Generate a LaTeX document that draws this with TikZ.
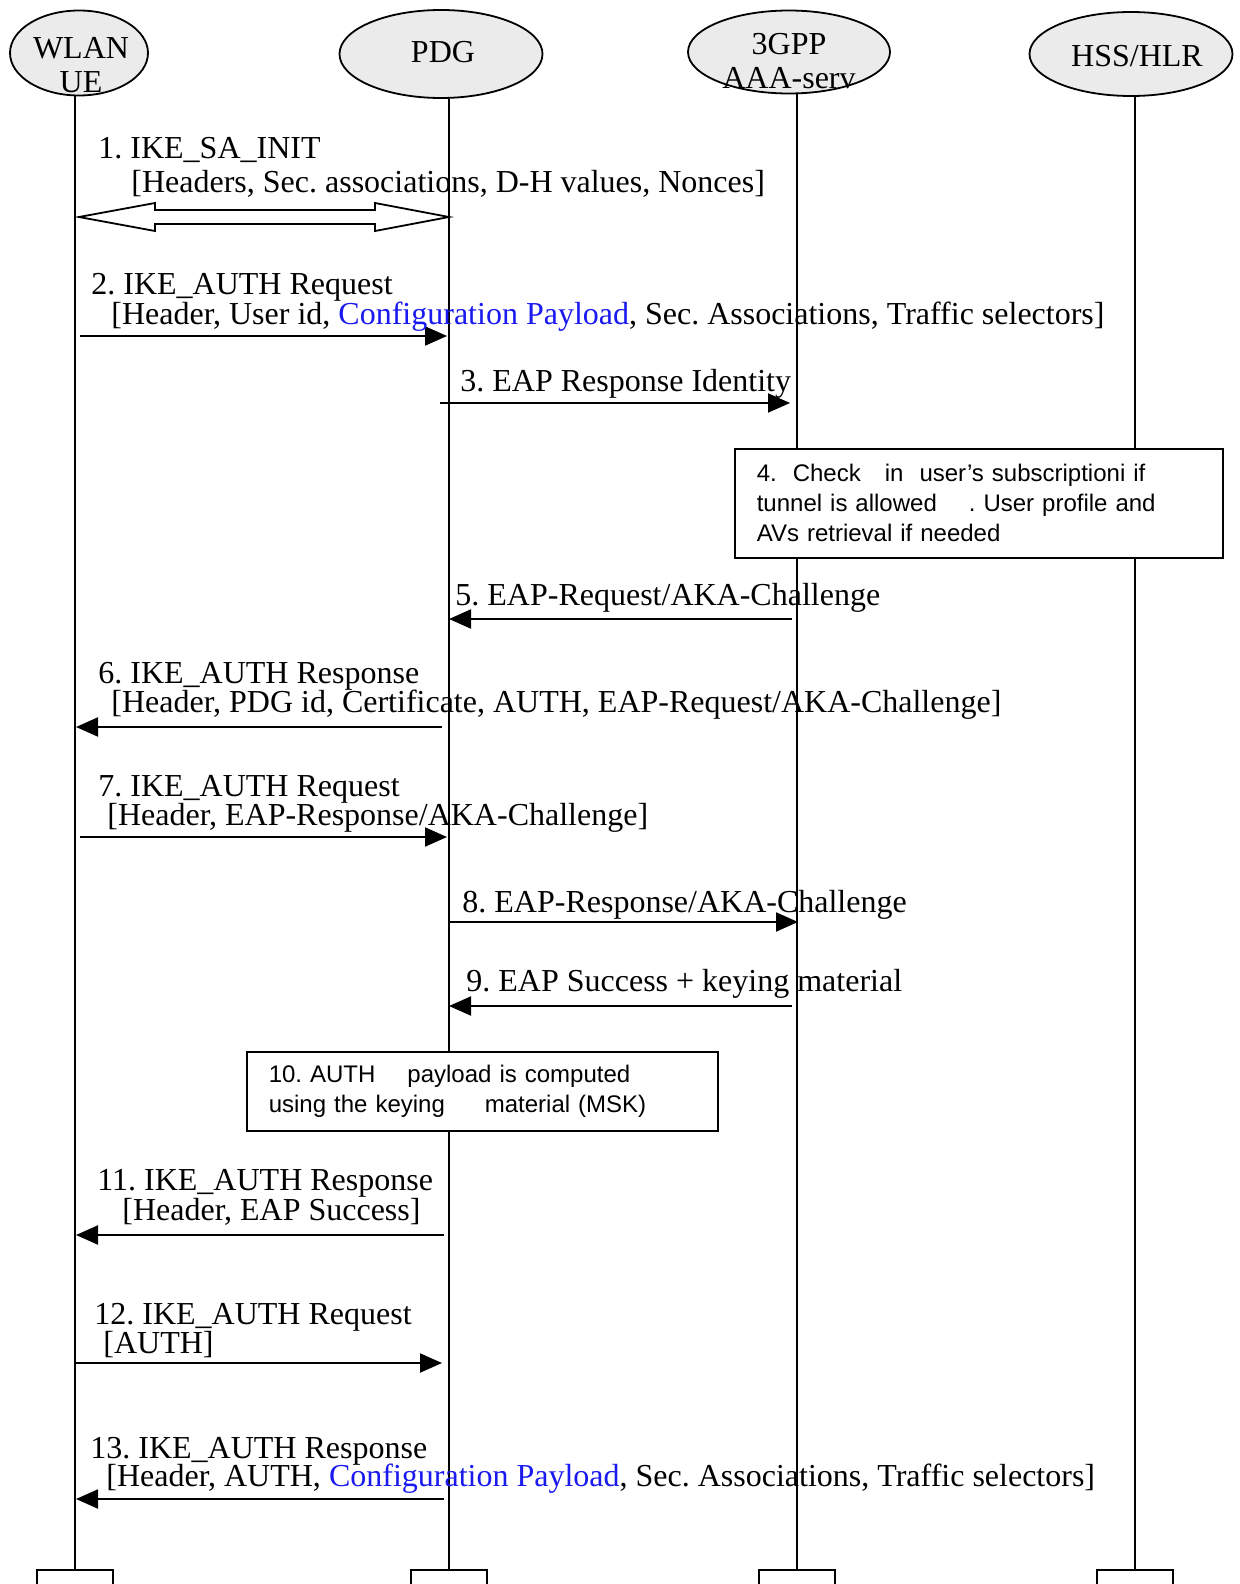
\documentclass[tikz,border=0pt]{standalone}
\usepackage{fontspec}
\setmainfont{Liberation Serif}
\newfontfamily\notefont{Liberation Sans}
\usetikzlibrary{calc,arrows.meta,shapes.geometric}
\definecolor{actorfill}{RGB}{235,235,235}
\definecolor{cpblue}{RGB}{25,25,240}
\newcommand{\cfgpay}{\textcolor{cpblue}{Configuration Payload}}
\frenchspacing
\tikzset{
  actor/.style={ellipse,draw,line width=0.9pt,fill=actorfill,inner sep=0pt},
  actorname/.style={inner sep=0pt,align=center,font=\fontsize{16}{17}\selectfont},
  life/.style={line width=1pt},
  msg/.style={line width=1pt,-{Triangle[length=11pt,width=9.5pt]}},
  lbl/.style={anchor=west,inner sep=0pt,text height=12pt,text depth=2pt,font=\fontsize{16}{17}\selectfont},
  note/.style={draw,fill=white,line width=0.8pt,anchor=north west,inner xsep=11pt,align=left,font=\notefont\fontsize{12}{15}\selectfont},
  endbox/.style={draw,line width=1.2pt,anchor=north,minimum width=38pt,minimum height=20pt}
}

\begin{document}
\begin{tikzpicture}[x=0.5pt,y=-0.5pt]
\useasboundingbox (0,0) rectangle (1239,1584);

% entities
\node[actor,minimum width=69pt,minimum height=42.5pt] (ue) at (79,53) {};
\node[actorname] (ue-name) at (81,65) {WLAN\\UE};
\node[actor,minimum width=101.5pt,minimum height=44pt] (pdg) at (441,54) {};
\node[actorname] (pdg-name) at (443,52) {PDG};
\node[actor,minimum width=101pt,minimum height=41.5pt] (aaa) at (789,52) {};
\node[actorname] (aaa-name) at (789,61) {3GPP\\AAA-serv};
\node[actor,minimum width=101.5pt,minimum height=42pt] (hss) at (1131,54) {};
\node[actorname] (hss-name) at (1137,56) {HSS/HLR};

% lifelines
\foreach \n/\x in {ue/75,pdg/449,aaa/797,hss/1135} {
  \coordinate (\n-x) at (\x,0);
  \draw[life] (\n.south -| \n-x) -- (\x,1569) coordinate (\n-end);
  \node[endbox] (\n-box) at (\n-end) {};
}

% local steps
\node[note,minimum width=244pt,minimum height=54.5pt,text width=222pt] (check) at (734,448)
  {4.~~Check~~~in~~user’s subscriptioni if\\tunnel is allowed~~~~. User profile and\\AVs retrieval if needed};
\node[note,minimum width=235.5pt,minimum height=39.5pt,text width=213.5pt] (msk) at (246,1051)
  {10. AUTH~~~~payload is computed\\using the keying~~~~~material (MSK)};

% 1: IKE_SA_INIT exchange
\coordinate (init-l) at ($(ue-x)+(4,217)$);
\draw[line width=0.9pt] (init-l) -- ++(76,-14) -- ++(0,7) -- ++(220,0) -- ++(0,-7)
  -- ++(74,14) -- ++(-74,14) -- ++(0,-7) -- ++(-220,0) -- ++(0,7) -- cycle;

% messages
\foreach \y/\from/\sx/\to/\ex in {336/ue/5/pdg/-2, 403/pdg/-9/aaa/-7, 619/aaa/-5/pdg/0,
    727/pdg/-7/ue/1, 837/ue/5/pdg/-2, 922/pdg/0/aaa/1, 1006/aaa/-5/pdg/0,
    1235/pdg/-5/ue/1, 1363/ue/1/pdg/-7, 1499/pdg/-5/ue/1}
  \draw[msg] ($(\from-x)+(\sx,\y)$) -- ($(\to-x)+(\ex,\y)$);

% labels
\node[lbl] (m1-a) at (98,148) {1. IKE\_SA\_INIT};
\node[lbl] (m1-b) at (131,182) {[Headers, Sec. associations, D-H values, Nonces]};
\node[lbl] (m2-a) at (91,284) {2. IKE\_AUTH Request};
\node[lbl] (m2-b) at (111,314) {[Header, User id, \cfgpay, Sec. Associations, Traffic selectors]};
\node[lbl] (m3-a) at (460,381) {3. EAP Response Identity};
\node[lbl] (m5-a) at (455,595) {5. EAP-Request/AKA-Challenge};
\node[lbl] (m6-a) at (98,673) {6. IKE\_AUTH Response};
\node[lbl] (m6-b) at (111,702) {[Header, PDG id, Certificate, AUTH, EAP-Request/AKA-Challenge]};
\node[lbl] (m7-a) at (98,786) {7. IKE\_AUTH Request};
\node[lbl] (m7-b) at (107,815) {[Header, EAP-Response/AKA-Challenge]};
\node[lbl] (m8-a) at (462,902) {8. EAP-Response/AKA-Challenge};
\node[lbl] (m9-a) at (466,981) {9. EAP Success + keying material};
\node[lbl] (m11-a) at (97,1180) {11. IKE\_AUTH Response};
\node[lbl] (m11-b) at (122,1210) {[Header, EAP Success]};
\node[lbl] (m12-a) at (94,1314) {12. IKE\_AUTH Request};
\node[lbl] (m12-b) at (103,1343) {[AUTH]};
\node[lbl] (m13-a) at (90,1448) {13. IKE\_AUTH Response};
\node[lbl] (m13-b) at (106,1476) {[Header, AUTH, \cfgpay, Sec. Associations, Traffic selectors]};
\end{tikzpicture}
\end{document}
